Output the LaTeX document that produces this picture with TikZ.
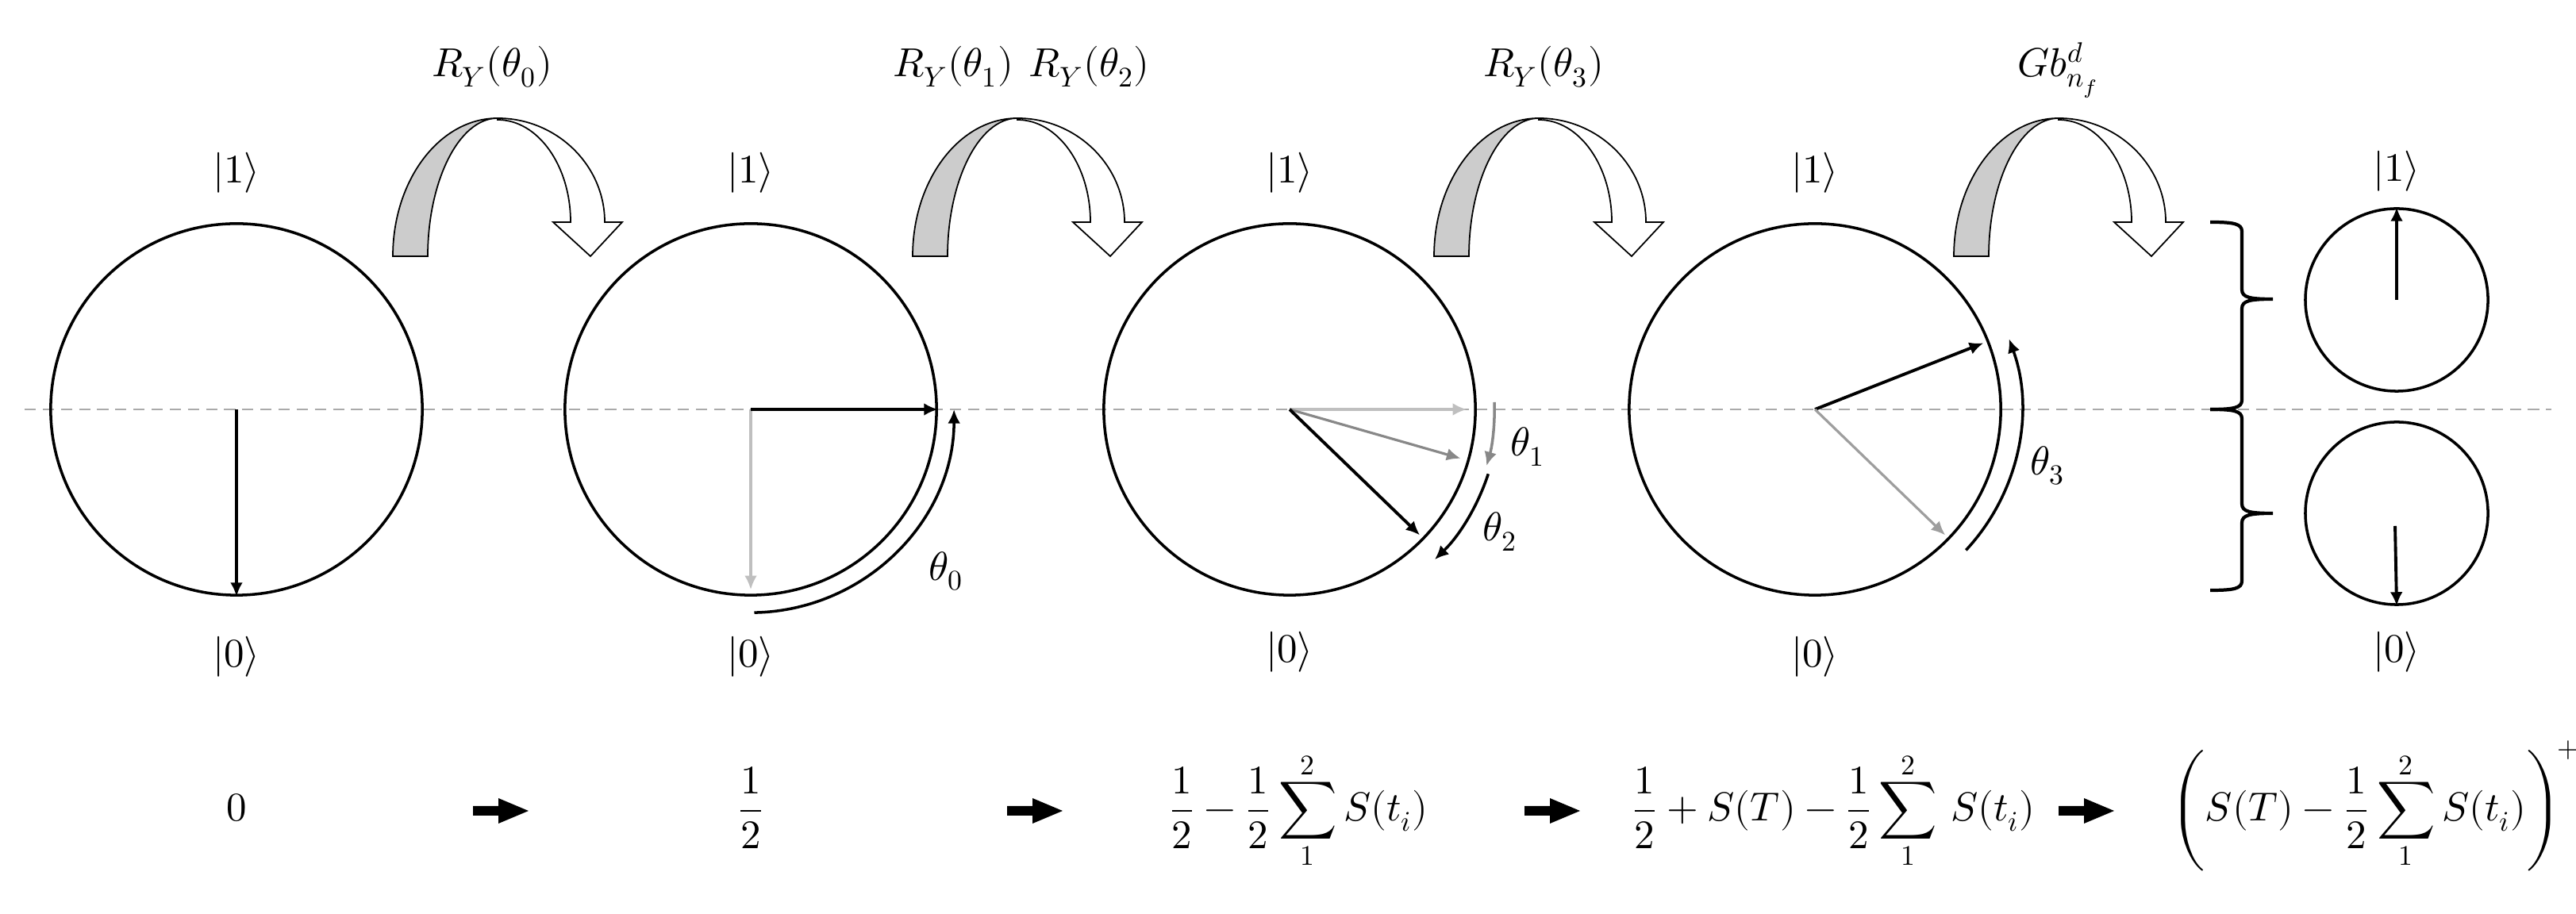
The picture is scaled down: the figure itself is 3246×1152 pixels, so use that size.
\documentclass[tikz,border=0pt]{standalone}
\usepackage{amsmath}
\usepackage{unicode-math}
\setmathfont{Latin Modern Math}
\usetikzlibrary{arrows.meta,calc}
\definecolor{dashgray}{HTML}{AAAAAA}
\definecolor{lightvec}{HTML}{BFBFBF}
\definecolor{midvec}{HTML}{888888}
\definecolor{fadevec}{HTML}{9E9E9E}
\definecolor{bandgray}{HTML}{CCCCCC}
\tikzset{
  lbl/.style={inner sep=0pt, font=\fontsize{14.5}{17}\selectfont},
  bloch/.style={circle, draw, line width=1pt, inner sep=0pt, minimum size=4.68cm},
  qsmall/.style={circle, draw, line width=1pt, inner sep=0pt, minimum size=2.3cm},
  vec/.style={line width=1.1pt, -{Latex[length=5pt,width=4.5pt]}},
  thinvec/.style={line width=0.9pt, -{Latex[length=5pt,width=4.5pt]}},
  rotarc/.style={line width=1pt, -{Latex[length=5pt,width=4.5pt]}},
  bracestyle/.style={line width=1.2pt},
  pics/bendarrow/.style={code={
    \filldraw[fill=bandgray, line width=0.5pt]
      (0,0) .. controls (0,96) and (59,174) .. (132,174)
      .. controls (83,174) and (44,94) .. (44,0) -- cycle;
    \filldraw[fill=white, line width=0.5pt]
      (132,174) .. controls (206,174) and (267,115) .. (267,43)
      -- (289,43) -- (249,0) -- (202,43) -- (224,43)
      .. controls (224,114) and (183,172) .. (132,172) -- cycle;
  }},
  pics/boldarrow/.style={code={
    \fill (-35,-6) -- (-3,-6) -- (-3,-16) -- (35,0) -- (-3,16) -- (-3,6) -- (-35,6) -- cycle;
  }}
}
\begin{document}
\begin{tikzpicture}[x=0.01cm, y=0.01cm]
\useasboundingbox (0,0) rectangle (3246,1152);

% dashed reference line
\draw[dashgray, line width=0.6pt, dash pattern=on 4pt off 2.5pt] (31,636) -- (3215,636);

% Bloch circles
\node[bloch] (c1) at (298,636) {};
\node[bloch] (c2) at (946,636) {};
\node[bloch] (c3) at (1625,636) {};
\node[bloch] (c4) at (2287,636) {};
\node[qsmall] (s1) at (3020,774) {};
\node[qsmall] (s2) at (3020,505) {};

% state labels
\node[lbl] (one1) at (298,934) {$|1\rangle$};
\node[lbl] (zero1) at (298,324) {$|0\rangle$};
\node[lbl] (one2) at (946,934) {$|1\rangle$};
\node[lbl] (zero2) at (946,324) {$|0\rangle$};
\node[lbl] (one3) at (1625,934) {$|1\rangle$};
\node[lbl] (zero3) at (1625,330) {$|0\rangle$};
\node[lbl] (one4) at (2287,934) {$|1\rangle$};
\node[lbl] (zero4) at (2287,324) {$|0\rangle$};
\node[lbl] (one5) at (3020,936) {$|1\rangle$};
\node[lbl] (zero5) at (3020,330) {$|0\rangle$};

% state vectors
\draw[vec] (c1.center) -- (c1.south);
\draw[thinvec, lightvec] (c2.center) -- ($(c2.center)+(-90:2.27cm)$);
\draw[vec] (c2.center) -- (c2.east);
\draw[thinvec, lightvec] (c3.center) -- ($(c3.center)+(0:2.23cm)$);
\draw[thinvec, midvec] (c3.center) -- ($(c3.center)+(-16:2.24cm)$);
\draw[vec] (c3.center) -- ($(c3.center)+(-44:2.28cm)$);
\draw[vec] (c4.center) -- ($(c4.center)+(21.5:2.28cm)$);
\draw[thinvec, fadevec] (c4.center) -- ($(c4.center)+(-44:2.28cm)$);
\draw[vec] (s1.center) -- (s1.north);
\draw[vec] ($(s2.center)+(-2,-16)$) -- (s2.south);

% rotation arcs
\draw[rotarc] ($(c2.center)+(-89:2.56cm)$) arc[start angle=-89, end angle=0, radius=2.56cm];
\draw[rotarc, midvec] ($(c3.center)+(2:2.58cm)$) arc[start angle=2, end angle=-16, radius=2.58cm];
\draw[rotarc] ($(c3.center)+(-18:2.63cm)$) arc[start angle=-18, end angle=-46, radius=2.63cm];
\draw[rotarc] ($(c4.center)+(-43:2.6cm)$) arc[start angle=-43, end angle=20, radius=2.6cm];

\node[lbl] (th0) at (1192,432) {$\theta_0$};
\node[lbl] (th1) at (1925,589) {$\theta_1$};
\node[lbl] (th2) at (1890,482) {$\theta_2$};
\node[lbl] (th3) at (2580,565) {$\theta_3$};

% curved gate arrows
\pic (g1) at (495,829) {bendarrow};
\pic (g2) at (1150,829) {bendarrow};
\pic (g3) at (1807,829) {bendarrow};
\pic (g4) at (2462,829) {bendarrow};

\node[lbl, anchor=base] (lg1) at (620,1055) {$R_Y(\theta_0)$};
\node[lbl, anchor=base east] (lg2a) at (1278,1055) {$R_Y(\theta_1)$};
\node[lbl, anchor=base west] (lg2b) at (1296,1055) {$R_Y(\theta_2)$};
\node[lbl, anchor=base] (lg3) at (1945,1055) {$R_Y(\theta_3)$};
\node[lbl, anchor=base] (lg4) at (2594,1055) {$Gb_{n_f}^{d}$};

% braces
\draw[bracestyle] (2785,872) .. controls (2815,872) and (2825,870) .. (2825,860)
  -- (2825,787) .. controls (2825,777) and (2835,775) .. (2864,775)
  .. controls (2835,775) and (2825,773) .. (2825,763)
  -- (2825,648) .. controls (2825,638) and (2815,636) .. (2785,636);
\draw[bracestyle] (2785,636) .. controls (2815,636) and (2825,634) .. (2825,624)
  -- (2825,517) .. controls (2825,507) and (2835,505) .. (2864,505)
  .. controls (2835,505) and (2825,503) .. (2825,493)
  -- (2825,420) .. controls (2825,410) and (2815,408) .. (2785,408);

% bottom row of values
\node[lbl, anchor=base] (v1) at (298,117) {$0$};
\node[lbl, anchor=base] (v2) at (946,117) {$\displaystyle\frac{1}{2}$};
\node[lbl, anchor=base] (v3) at (1636,117) {$\displaystyle\frac{1}{2}-\frac{1}{2}\sum_{1}^{2}S(t_i)$};
\node[lbl, anchor=base] (v4) at (2310,117) {$\displaystyle\frac{1}{2}+S(T)-\frac{1}{2}\sum_{1}^{2}\,S(t_i)$};
\node[lbl, anchor=base] (v5) at (2993,117) {$\displaystyle\Biggl(S(T)-\frac{1}{2}\sum_{1}^{2}S(t_i)\Biggr)^{\!+}$};

\pic (b1) at (631,130) {boldarrow};
\pic (b2) at (1304,130) {boldarrow};
\pic (b3) at (1956,130) {boldarrow};
\pic (b4) at (2629,130) {boldarrow};
\end{tikzpicture}
\end{document}
